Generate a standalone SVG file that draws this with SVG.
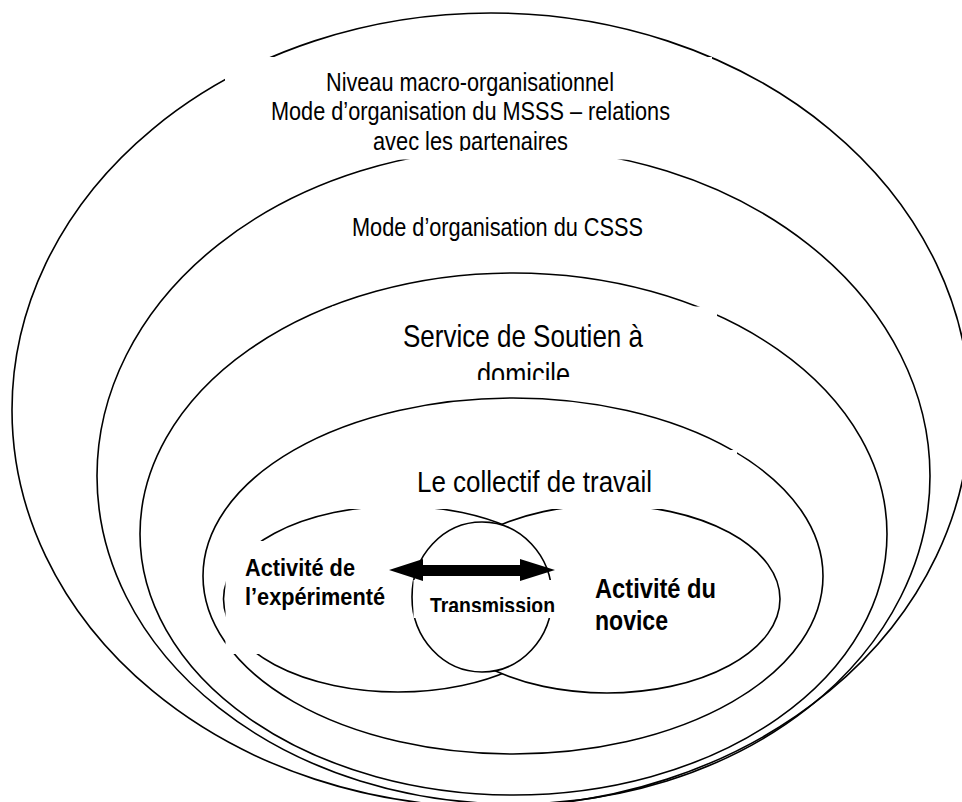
<svg xmlns="http://www.w3.org/2000/svg" width="962" height="802" viewBox="0 0 962 802">
<style>
.ln{fill:none;stroke:#000;stroke-width:1.6}
.wf{fill:#fff;stroke:#000;stroke-width:1.6}
.bx{fill:#fff;stroke:none}
.t{font-family:'Liberation Sans Narrow','Arial Narrow','Liberation Sans',Arial,sans-serif;fill:#000}
.b{font-weight:bold}
</style>
<defs>
<clipPath id="clipA"><rect x="225" y="57" width="489" height="94"/></clipPath>
<clipPath id="clipS"><rect x="332" y="306" width="385" height="74"/></clipPath>
<clipPath id="clipT"><rect x="413" y="580" width="145" height="32"/></clipPath>
</defs>
<rect width="962" height="802" fill="#fff"/>
<g id="macro"><ellipse class="ln" cx="491" cy="410" rx="479" ry="397"/></g>
<g id="csss"><ellipse class="ln" cx="513.5" cy="476" rx="416.5" ry="328"/></g>
<g id="sad"><ellipse class="ln" cx="513.5" cy="534" rx="373.5" ry="261"/></g>
<g id="collectif"><ellipse class="ln" cx="513" cy="576" rx="310" ry="178"/></g>
<g id="experimente"><ellipse class="wf" cx="398" cy="599" rx="174.5" ry="93"/></g>
<g id="novice"><ellipse class="wf" cx="607" cy="599" rx="173" ry="94"/></g>
<g id="transmission"><ellipse class="wf" cx="482" cy="597" rx="70" ry="75"/></g>
<g id="label-macro">
<rect class="bx" x="225" y="57" width="487" height="102.5"/>
<g clip-path="url(#clipA)">
<text class="t" font-size="26" x="326" y="90.5" textLength="288" lengthAdjust="spacingAndGlyphs">Niveau macro-organisationnel</text>
<text class="t" font-size="26" x="271" y="119.5" textLength="399" lengthAdjust="spacingAndGlyphs">Mode d’organisation du MSSS – relations</text>
<text class="t" font-size="26" x="373" y="149.5" textLength="195" lengthAdjust="spacingAndGlyphs">avec les partenaires</text>
</g>
</g>
<g id="label-csss">
<rect class="bx" x="345" y="205" width="305" height="40"/>
<text class="t" font-size="25" x="352" y="235.5" textLength="291" lengthAdjust="spacingAndGlyphs">Mode d’organisation du CSSS</text>
</g>
<g id="label-sad">
<rect class="bx" x="332" y="306.5" width="385" height="78"/>
<g clip-path="url(#clipS)">
<text class="t" font-size="32" x="403" y="346.5" textLength="240" lengthAdjust="spacingAndGlyphs">Service de Soutien à</text>
<text class="t" font-size="32" x="477" y="384.5" textLength="93" lengthAdjust="spacingAndGlyphs">domicile</text>
</g>
</g>
<g id="label-collectif">
<rect class="bx" x="300" y="450" width="437" height="59"/>
<text class="t" font-size="29" x="417" y="491.5" textLength="235" lengthAdjust="spacingAndGlyphs">Le collectif de travail</text>
</g>
<g id="label-experimente">
<rect class="bx" x="225.5" y="541" width="180" height="113"/>
<text class="t b" font-size="24" x="245" y="575.5" textLength="110" lengthAdjust="spacingAndGlyphs">Activité de</text>
<text class="t b" font-size="24" x="245" y="604.5" textLength="140" lengthAdjust="spacingAndGlyphs">l’expérimenté</text>
</g>
<g id="label-novice">
<rect class="bx" x="590" y="568" width="130" height="70"/>
<text class="t b" font-size="28" x="595" y="597.5" textLength="121" lengthAdjust="spacingAndGlyphs">Activité du</text>
<text class="t b" font-size="28" x="595" y="630" textLength="73" lengthAdjust="spacingAndGlyphs">novice</text>
</g>
<g id="label-transmission">
<rect class="bx" x="413.5" y="580" width="142" height="38"/>
<g clip-path="url(#clipT)">
<text class="t b" font-size="22" x="430" y="613" textLength="125" lengthAdjust="spacingAndGlyphs">Transmission</text>
</g>
</g>
<g id="connectors">
<polygon fill="#000" points="389,570 423,559 423,565 520,565 520,559 555,570 520,581 520,576 423,576 423,581"/>
</g>
</svg>
